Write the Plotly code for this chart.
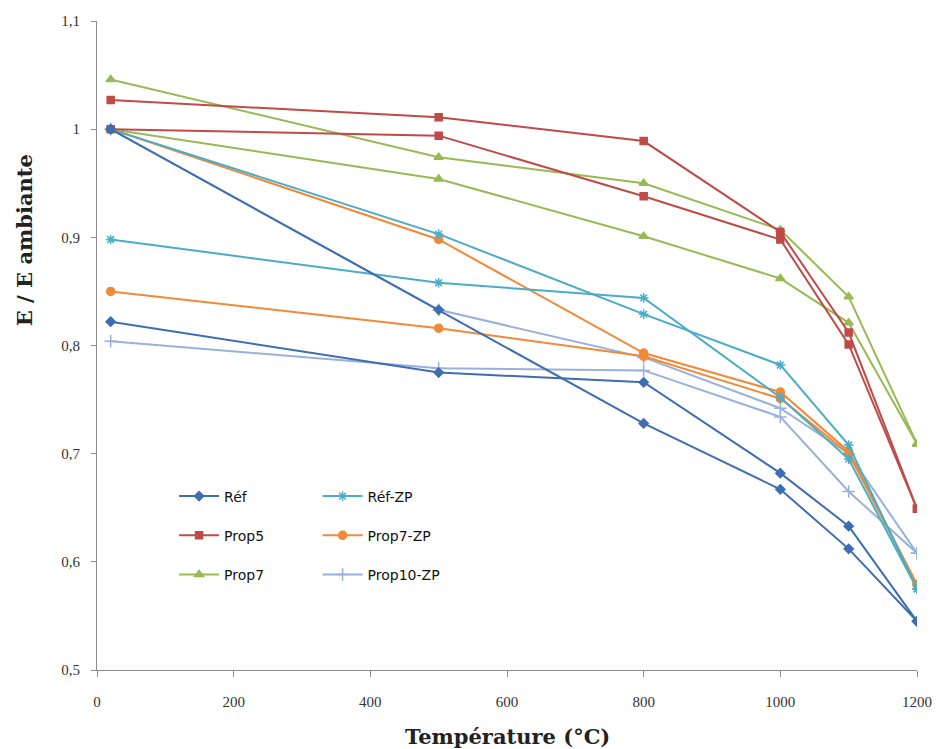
import plotly.graph_objects as go

temps = [20, 500, 800, 1000, 1100, 1200]

ref_a = [1.000, 0.833, 0.728, 0.667, 0.612, 0.545]
ref_b = [0.822, 0.775, 0.766, 0.682, 0.633, 0.545]
refzp_a = [1.000, 0.903, 0.829, 0.782, 0.708, 0.575]
refzp_b = [0.898, 0.858, 0.844, 0.752, 0.695, 0.575]
prop5_a = [1.027, 1.011, 0.989, 0.905, 0.812, 0.649]
prop5_b = [1.000, 0.994, 0.938, 0.898, 0.801, 0.649]
prop7zp_a = [1.000, 0.898, 0.793, 0.757, 0.702, 0.579]
prop7zp_b = [0.850, 0.816, 0.790, 0.751, 0.700, 0.579]
prop7_a = [1.046, 0.974, 0.950, 0.907, 0.845, 0.709]
prop7_b = [1.000, 0.954, 0.901, 0.862, 0.821, 0.709]
prop10zp_a = [1.000, 0.833, 0.789, 0.742, 0.700, 0.608]
prop10zp_b = [0.804, 0.779, 0.777, 0.734, 0.665, 0.608]

x_ticks = [0, 200, 400, 600, 800, 1000, 1200]
y_ticks = [0.5, 0.6, 0.7, 0.8, 0.9, 1.0, 1.1]
y_tick_text = ["0,5", "0,6", "0,7", "0,8", "0,9", "1", "1,1"]

# drawing order (first = bottom); legend rank gives legend order
series = [
    ("Prop10-ZP", prop10zp_a, prop10zp_b, "#98B1DA", "cross-thin-open", 9, "legend2", 3),
    ("Prop7-ZP", prop7zp_a, prop7zp_b, "#F08A3A", "circle", 8, "legend2", 2),
    ("Réf-ZP", refzp_a, refzp_b, "#4BACC6", "asterisk-open", 8, "legend2", 1),
    ("Prop7", prop7_a, prop7_b, "#98B954", "triangle-up", 8, "legend", 3),
    ("Prop5", prop5_a, prop5_b, "#BE4B48", "square", 7, "legend", 2),
    ("Réf", ref_a, ref_b, "#3F6DB2", "diamond", 7, "legend", 1),
]

fig = go.Figure()
for name, ya, yb, col, sym, sz, leg, rank in series:
    for i, yy in enumerate([ya, yb]):
        fig.add_trace(go.Scatter(
            x=temps, y=yy, mode="lines+markers", name=name,
            legendgroup=name, showlegend=(i == 0), legend=leg,
            legendrank=rank,
            line=dict(color=col, width=2),
            marker=dict(symbol=sym, size=sz, color=col,
                        line=dict(color=col, width=1.5)),
        ))

serif = "Liberation Serif, DejaVu Serif, serif"
title_font = "DejaVu Serif, serif"
leg_common = dict(
    font=dict(family="DejaVu Sans, sans-serif", size=14, color="#111111"),
    bgcolor="rgba(0,0,0,0)", traceorder="grouped", tracegroupgap=18,
    xanchor="left", yanchor="top", itemwidth=40,
)

fig.update_layout(
    width=939, height=749,
    margin=dict(l=97, r=22, t=21, b=79, autoexpand=False),
    paper_bgcolor="white", plot_bgcolor="white",
    showlegend=True,
    legend=dict(x=0.094, y=0.292, **leg_common),
    legend2=dict(x=0.269, y=0.292, **leg_common),
    xaxis=dict(
        range=[0, 1200], tickvals=x_ticks, showgrid=False, zeroline=False,
        showline=True, linecolor="#8C8C8C", linewidth=1,
        ticks="outside", ticklen=6, tickcolor="#8C8C8C",
        ticklabelstandoff=12, automargin=False,
        tickfont=dict(family=serif, size=15, color="#333333"),
    ),
    yaxis=dict(
        range=[0.5, 1.1], tickvals=y_ticks, ticktext=y_tick_text,
        showgrid=False, zeroline=False,
        showline=True, linecolor="#8C8C8C", linewidth=1,
        ticks="outside", ticklen=5, tickcolor="#8C8C8C",
        ticklabelstandoff=8, automargin=False,
        tickfont=dict(family=serif, size=15, color="#333333"),
    ),
    annotations=[
        dict(text="<b>Température (°C)</b>", xref="paper", yref="paper",
             x=0.5, y=-0.102, xanchor="center", yanchor="middle",
             showarrow=False, font=dict(family=title_font, size=21, color="#222222")),
        dict(text="<b>E / E ambiante</b>", xref="paper", yref="paper",
             x=-0.088, y=0.662, xanchor="center", yanchor="middle",
             textangle=-90, showarrow=False,
             font=dict(family=title_font, size=21, color="#222222")),
    ],
)

fig.write_html(
    "out.html",
    config={"displayModeBar": False},
    post_script="document.body.style.margin='0';document.body.style.overflow='hidden';",
)
